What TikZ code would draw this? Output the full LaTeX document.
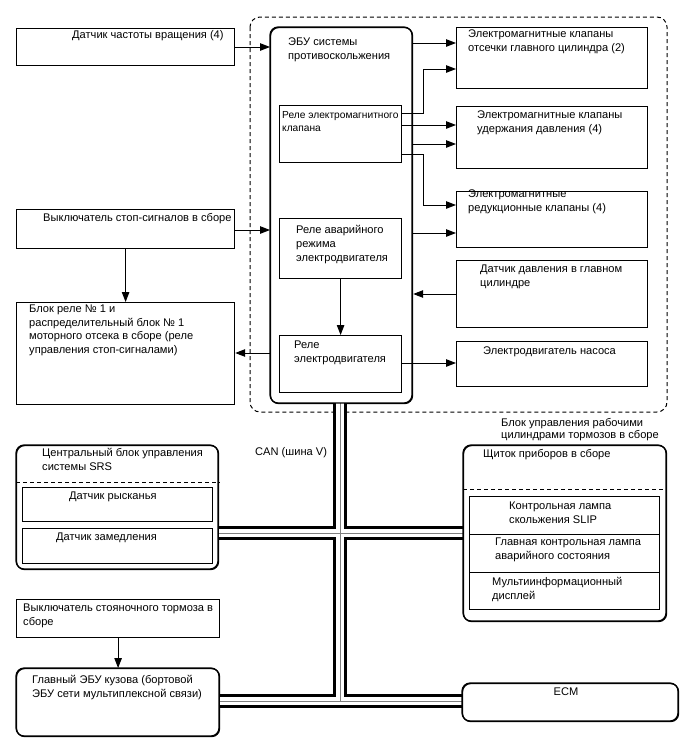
\documentclass[tikz,border=0pt]{standalone}
\usepackage{fontspec}
\setmainfont{Liberation Sans}
\usetikzlibrary{arrows.meta}
\begin{document}
\begin{tikzpicture}[x=1pt,y=-1pt,
  bx/.style={draw, line width=1.2pt, inner sep=0pt, anchor=north west, fill=white},
  rbx/.style={bx, rounded corners=8pt},
  ibx/.style={draw, line width=1pt, inner sep=0pt, anchor=north west},
  txt/.style={anchor=north west, inner sep=0pt, align=left, font=\fontsize{11.1}{13.8}\selectfont},
  stxt/.style={txt, font=\fontsize{10.2}{13}\selectfont},
  arr/.style={line width=1pt, -{Triangle[length=10pt,width=7.5pt]}},
  busblack/.style={line width=13.5pt, black},
  buswhite/.style={line width=7.5pt, white},
  busgray/.style={line width=0.9pt, gray},
  dsh/.style={draw, line width=1pt, dash pattern=on 4pt off 3pt, rounded corners=10pt}
]
\useasboundingbox (0,0) rectangle (688,755);
\fill[white] (0,0) rectangle (688,755);

% dashed outer block
\draw[dsh] (250,17) rectangle (667,412);
\node[anchor=north west, inner sep=0pt] (dashbox) at (250,17) {};

% boxes that sit under the bus
\node[rbx, minimum width=202pt, minimum height=124pt] (srs) at (16,445) {};
\node[rbx, minimum width=203pt, minimum height=176pt] (ic) at (463,445) {};
\node[rbx, minimum width=203pt, minimum height=68pt] (body) at (16,668) {};
\node[rbx, minimum width=216pt, minimum height=38pt] (ecm) at (462,683) {};
\node[rbx, minimum width=142pt, minimum height=376pt] (ecu) at (270,27) {};

% CAN bus
\coordinate (bt) at (340,403);
\coordinate (bb) at (340,701);
\coordinate (bm) at (340,533);
\foreach \s in {busblack,buswhite,busgray}{
  \draw[\s] (bt) -- (bb);
  \draw[\s] (srs.east |- bm) -- (ic.west |- bm);
  \draw[\s] (body.east |- bb) -- (ecm.west |- bb);
}
% redraw borders on top of the bus ends
\draw[line width=1.2pt, rounded corners=8pt] (16,445) rectangle (218,569);
\draw[line width=1.2pt, rounded corners=8pt] (463,445) rectangle (666,621);
\draw[line width=1.2pt, rounded corners=8pt] (16,668) rectangle (219,736);
\draw[line width=1.2pt, rounded corners=8pt] (462,683) rectangle (678,721);
\draw[line width=1.2pt, rounded corners=8pt] (270,27) rectangle (412,403);

% dashed separators
\draw[line width=1pt, dash pattern=on 4pt off 3pt] (srs.west |- 0,482) -- (srs.east |- 0,482);
\draw[line width=1pt, dash pattern=on 4pt off 3pt] (ic.west |- 0,489) -- (ic.east |- 0,489);

% plain boxes
\node[bx, minimum width=218pt, minimum height=37pt] (speed) at (16,28) {};
\node[bx, minimum width=218pt, minimum height=39pt] (stop) at (16,209) {};
\node[bx, minimum width=218pt, minimum height=102pt] (rb) at (16,302) {};
\node[bx, minimum width=203pt, minimum height=38pt] (park) at (16,599) {};

\node[bx, minimum width=122pt, minimum height=57pt] (srel) at (279,105) {};
\node[bx, minimum width=122pt, minimum height=60pt] (erel) at (279,218) {};
\node[bx, minimum width=122pt, minimum height=57pt] (mrel) at (279,335) {};

\node[bx, minimum width=191pt, minimum height=61pt] (cut) at (456,27) {};
\node[bx, minimum width=191pt, minimum height=62pt] (hold) at (456,106) {};
\node[bx, minimum width=191pt, minimum height=56pt] (red) at (456,191) {};
\node[bx, minimum width=191pt, minimum height=67pt] (press) at (456,260) {};
\node[bx, minimum width=191pt, minimum height=45pt] (pump) at (456,341) {};

\node[ibx, minimum width=190pt, minimum height=34pt] (yaw) at (22,487) {};
\node[ibx, minimum width=190pt, minimum height=35pt] (decel) at (22,528) {};
\node[ibx, minimum width=190pt, minimum height=38pt] (slip) at (469,496) {};
\node[ibx, minimum width=190pt, minimum height=38pt] (mlamp) at (469,534) {};
\node[ibx, minimum width=190pt, minimum height=37pt] (mid) at (469,572) {};

% texts
\node[txt] (speed-t) at (72,30.5) {Датчик частоты вращения (4)};
\node[txt] (ecu-t) at (288,38) {ЭБУ системы\\противоскольжения};
\node[stxt] (srel-t) at (282,111) {Реле электромагнитного\\клапана};
\node[txt] (erel-t) at (296,225.5) {Реле аварийного\\режима\\электродвигателя};
\node[txt] (mrel-t) at (294,340.5) {Реле\\электродвигателя};
\node[txt] (cut-t) at (468,29.5) {Электромагнитные клапаны\\отсечки главного цилиндра (2)};
\node[txt] (hold-t) at (477,110.5) {Электромагнитные клапаны\\удержания давления (4)};
\node[txt] (red-t) at (468,189.5) {Электромагнитные\\редукционные клапаны (4)};
\node[txt] (press-t) at (480,264.5) {Датчик давления в главном\\цилиндре};
\node[txt] (pump-t) at (483,346.5) {Электродвигатель насоса};
\node[txt] (stop-t) at (43,213.5) {Выключатель стоп-сигналов в сборе};
\node[txt] (rb-t) at (29,304.5) {Блок реле № 1 и\\распределительный блок № 1\\моторного отсека в сборе (реле\\управления стоп-сигналами)};
\node[txt] (can-t) at (255,447.5) {CAN (шина V)};
\node[txt, font=\fontsize{11.1}{11.8}\selectfont] (bcu-t) at (501,418.5) {Блок управления рабочими\\цилиндрами тормозов в сборе};
\node[txt] (srs-t) at (42,448.5) {Центральный блок управления\\системы SRS};
\node[txt] (yaw-t) at (69,491.5) {Датчик рысканья};
\node[txt] (decel-t) at (56,532.5) {Датчик замедления};
\node[txt] (ic-t) at (483,449.5) {Щиток приборов в сборе};
\node[txt] (slip-t) at (509,501.5) {Контрольная лампа\\скольжения SLIP};
\node[txt] (mlamp-t) at (495,537.5) {Главная контрольная лампа\\аварийного состояния};
\node[txt] (mid-t) at (492,577) {Мультиинформационный\\дисплей};
\node[txt] (park-t) at (23,603.5) {Выключатель стояночного тормоза в\\сборе};
\node[txt] (body-t) at (32,675.5) {Главный ЭБУ кузова (бортовой\\ЭБУ сети мультиплексной связи)};
\node[txt, anchor=north] (ecm-t) at (566,687.5) {ECM};

% connectors
\draw[arr] (speed.east |- 0,47) -- (ecu.west |- 0,47);
\draw[arr] (stop.east |- 0,230) -- (ecu.west |- 0,230);
\draw[arr] (stop.south) -- (rb.north);
\draw[arr] (ecu.west |- 0,353) -- (rb.east |- 0,353);
\draw[arr] (erel.south) -- (mrel.north);
\draw[arr] (park.south) -- (body.north -| park.south);

\draw[arr] (ecu.east |- 0,43) -- (cut.west |- 0,43);
\draw[arr] (srel.east |- 0,113) -| (423,69) -- (cut.west |- 0,69);
\draw[arr] (srel.east |- 0,125) -- (hold.west |- 0,125);
\draw[arr] (ecu.east |- 0,144) -- (hold.west |- 0,144);
\draw[arr] (srel.east |- 0,154) -| (423,205) -- (red.west |- 0,205);
\draw[arr] (ecu.east |- 0,233) -- (red.west |- 0,233);
\draw[arr] (press.west |- 0,294) -- (ecu.east |- 0,294);
\draw[arr] (mrel.east |- 0,363) -- (pump.west |- 0,363);
\end{tikzpicture}
\end{document}
